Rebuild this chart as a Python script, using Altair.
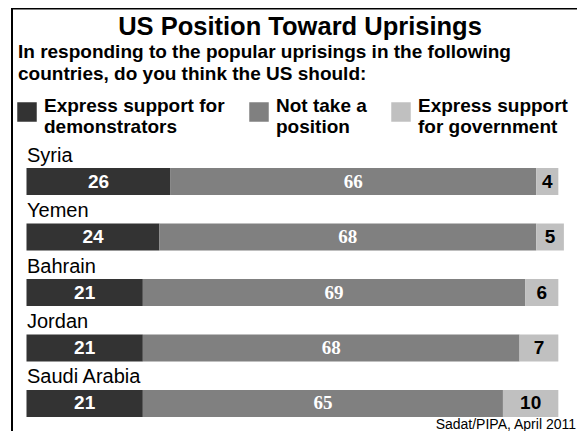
import altair as alt
import pandas as pd

# ---- data ----
countries = ["Syria", "Yemen", "Bahrain", "Jordan", "Saudi Arabia"]
support_demonstrators = [26, 24, 21, 21, 21]
no_position = [66, 68, 69, 68, 65]
support_government = [4, 5, 6, 7, 10]
categories = [
    "Express support for|demonstrators",
    "Not take a|position",
    "Express support|for government",
]
colors = ["#333333", "#808080", "#c0c0c0"]
title_text = "US Position Toward Uprisings"
question_lines = [
    "In responding to the popular uprisings in the following",
    "countries, do you think the US should:",
]
source_text = "Sadat/PIPA, April 2011"

rows = []
series = [support_demonstrators, no_position, support_government]
for i, c in enumerate(countries):
    for k, cat in enumerate(categories):
        rows.append({"country": c, "category": cat, "order": k, "value": series[k][i]})
df = pd.DataFrame(rows)

SANS = "Liberation Sans"
SERIF = "Liberation Serif"

W, H = 569, 423

xscale = alt.Scale(domain=[0, 100], range=[18.5, 572.5], nice=False, zero=True)
yscale = alt.Scale(domain=countries, range=[160, 409], paddingInner=0.5135, paddingOuter=0)
yenc = alt.Y("country:N", sort=countries, scale=yscale, axis=None)

base = alt.Chart(df).transform_stack(
    stack="value", groupby=["country"], as_=["x0", "x1"],
    sort=[alt.SortField("order", order="ascending")],
).transform_calculate(mid="(datum.x0 + datum.x1) / 2")

bars = base.mark_bar().encode(
    x=alt.X("x0:Q", scale=xscale, axis=None),
    x2="x1:Q",
    y=yenc,
    color=alt.Color(
        "category:N",
        scale=alt.Scale(domain=categories, range=colors),
        legend=alt.Legend(
            title=None, orient="none", legendX=9, legendY=94,
            direction="horizontal", columns=3, gridAlign="none",
            symbolType="square", symbolSize=380, symbolStrokeWidth=0,
            symbolOpacity=1,
            labelFont=SANS, labelFontSize=19, labelFontWeight="bold",
            labelColor="black", labelLimit=400, labelOffset=7,
            labelBaseline="alphabetic",
            labelExpr="split(datum.label, '|')",
            columnPadding=24, rowPadding=0,
        ),
    ),
)

def seg_label(k, font, color):
    return base.transform_filter(f"datum.order == {k}").mark_text(
        align="center", baseline="middle", font=font, fontSize=19,
        fontWeight="bold", color=color,
    ).encode(
        x=alt.X("mid:Q", scale=xscale, axis=None),
        y=yenc,
        text="value:Q",
    )

lab_dark = seg_label(0, SANS, "white")
lab_mid = seg_label(1, SERIF, "white")
lab_light = seg_label(2, SANS, "black")

country_labels = alt.Chart(pd.DataFrame({"country": countries})).mark_text(
    align="left", baseline="alphabetic", dy=-20, font=SANS, fontSize=20, color="black",
).encode(y=yenc, x=alt.value(19), text="country:N")

title = alt.Chart(pd.DataFrame({"t": [title_text]})).mark_text(
    align="center", baseline="alphabetic", font=SANS, fontSize=25.5, fontWeight="bold", color="black",
).encode(x=alt.value(292), y=alt.value(27), text="t:N")

question = alt.Chart(pd.DataFrame({"t": ["\n".join(question_lines)]})).mark_text(
    align="left", baseline="alphabetic", font=SANS, fontSize=19, fontWeight="bold",
    color="black", lineBreak="\n", lineHeight=22.5,
).encode(x=alt.value(10), y=alt.value(49.5), text="t:N")

source = alt.Chart(pd.DataFrame({"t": [source_text]})).mark_text(
    align="right", baseline="alphabetic", font=SANS, fontSize=14, color="black",
).encode(x=alt.value(W - 1), y=alt.value(421), text="t:N")

frame_df = pd.DataFrame({"a": [0]})
frame_left = alt.Chart(frame_df).mark_rule(color="black", strokeWidth=2).encode(
    x=alt.value(4), y=alt.value(0), y2=alt.value(H))
frame_top = alt.Chart(frame_df).mark_rule(color="black", strokeWidth=2).encode(
    x=alt.value(3), x2=alt.value(W), y=alt.value(0.5))

chart = alt.layer(
    frame_left, frame_top, bars, lab_dark, lab_mid, lab_light,
    country_labels, title, question, source,
).properties(
    width=W, height=H, padding=0, autosize=alt.AutoSizeParams(type="none"),
    background="white",
).configure_view(stroke=None)

chart.save("out.html", embed_options={"renderer": "svg", "actions": False})
